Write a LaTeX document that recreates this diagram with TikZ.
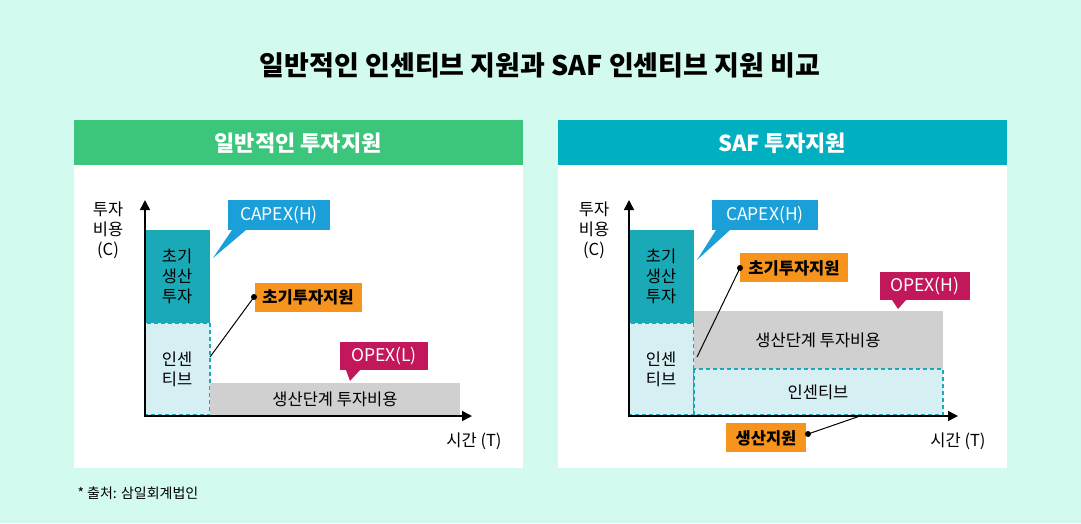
\documentclass[tikz,border=0pt]{standalone}
\usepackage{fontspec}
\setmainfont{Noto Sans CJK KR}
\usetikzlibrary{arrows.meta}
\definecolor{mint}{HTML}{D3FAEE}
\definecolor{hdgreen}{HTML}{3CC67C}
\definecolor{hdteal}{HTML}{00B0C0}
\definecolor{boxteal}{HTML}{1AA9B7}
\definecolor{lightteal}{HTML}{D6EFF2}
\definecolor{capblue}{HTML}{1A9FD9}
\definecolor{suporange}{HTML}{F7941D}
\definecolor{opexred}{HTML}{C2185B}
\definecolor{costgray}{HTML}{D0D0D0}
\tikzset{
  txt/.style={font=\fontsize{16.5}{20}\selectfont, align=center},
  tag/.style={txt, font=\fontsize{17.5}{20}\selectfont, text=white, inner sep=0pt},
  sup/.style={txt, text=black, inner sep=0pt},
  incbox/.style={fill=lightteal, draw=boxteal, dash pattern=on 4pt off 3pt, line width=2pt},
  axis/.style={line width=1.5pt, -{Triangle[length=10pt,width=10pt]}},
  head/.style={text=white, font=\fontsize{22}{24}\selectfont\bfseries},
}
\begin{document}
\begin{tikzpicture}[x=1pt,y=-1pt]
\fill[mint] (0,0) rectangle (1081,523);
\node (title) at (540,65) {\fontsize{27}{30}\selectfont\bfseries 일반적인 인센티브 지원과 SAF 인센티브 지원 비교};
\node[anchor=west] (src) at (74,493) {\fontsize{14}{16}\selectfont * 출처: 삼일회계법인};

% left panel
\fill[white] (74,120) rectangle (523,468);
\fill[hdgreen] (74,120) rectangle (523,165);
\node[head] (lhead) at (298,143) {일반적인 투자지원};
\fill[boxteal] (145,230) rectangle (210,323);
\node[txt] (linit) at (177,276) {초기\\생산\\투자};
\draw[incbox] (145,323) rectangle (210,415);
\node[txt] (linc) at (177,369) {인센\\티브};
\fill[costgray] (210,383) rectangle (460,415);
\node[txt] (lcost) at (335,399) {생산단계 투자비용};
\draw[axis] (145,416) -- (145,200);
\draw[axis] (144,416) -- (472,416);
\node[txt] (lyl) at (108,230) {투자\\비용\\(C)};
\node[txt] (lxl) at (474,441) {시간 (T)};
\fill[capblue] (228,200) rectangle (330,230);
\fill[capblue] (232,230) -- (246,230) -- (213,258) -- cycle;
\node[tag] (lcap) at (279,215) {CAPEX(H)};
\fill[suporange] (255,283) rectangle (362,312);
\node[sup] (lsup) at (308,297) {\bfseries 초기투자지원};
\fill (254,297) circle (3pt);
\draw[line width=1pt] (254,297) -- (210,357);
\fill[opexred] (340,342) rectangle (428,370);
\fill[opexred] (346,370) -- (360,370) -- (350,381) -- cycle;
\node[tag] (lopex) at (384,356) {OPEX(L)};

% right panel
\fill[white] (558,120) rectangle (1007,468);
\fill[hdteal] (558,120) rectangle (1007,165);
\node[head] (rhead) at (782,143) {SAF 투자지원};
\fill[boxteal] (629,230) rectangle (694,323);
\node[txt] (rinit) at (661,276) {초기\\생산\\투자};
\draw[incbox] (629,323) rectangle (694,415);
\node[txt] (rinc) at (661,369) {인센\\티브};
\fill[costgray] (694,311) rectangle (943,369);
\node[txt] (rcost) at (818,340) {생산단계 투자비용};
\draw[incbox] (694,369) rectangle (943,415);
\node[txt] (rinc2) at (818,392) {인센티브};
\draw[axis] (629,416) -- (629,200);
\draw[axis] (628,416) -- (958,416);
\node[txt] (ryl) at (594,230) {투자\\비용\\(C)};
\node[txt] (rxl) at (958,441) {시간 (T)};
\fill[capblue] (712,200) rectangle (818,230);
\fill[capblue] (716,230) -- (730,230) -- (697,260) -- cycle;
\node[tag] (rcap) at (765,215) {CAPEX(H)};
\fill[suporange] (740,253) rectangle (848,282);
\node[sup] (rsup) at (794,268) {\bfseries 초기투자지원};
\fill (740,268) circle (3pt);
\draw[line width=1pt] (740,268) -- (697,357);
\fill[opexred] (880,272) rectangle (970,300);
\fill[opexred] (892,300) -- (906,300) -- (898,309) -- cycle;
\node[tag] (ropex) at (925,286) {OPEX(H)};
\fill[suporange] (726,423) rectangle (806,452);
\node[sup] (rprod) at (766,438) {\bfseries 생산지원};
\fill (808,434) circle (3pt);
\draw[line width=1pt] (808,434) -- (860,416);
\end{tikzpicture}
\end{document}
